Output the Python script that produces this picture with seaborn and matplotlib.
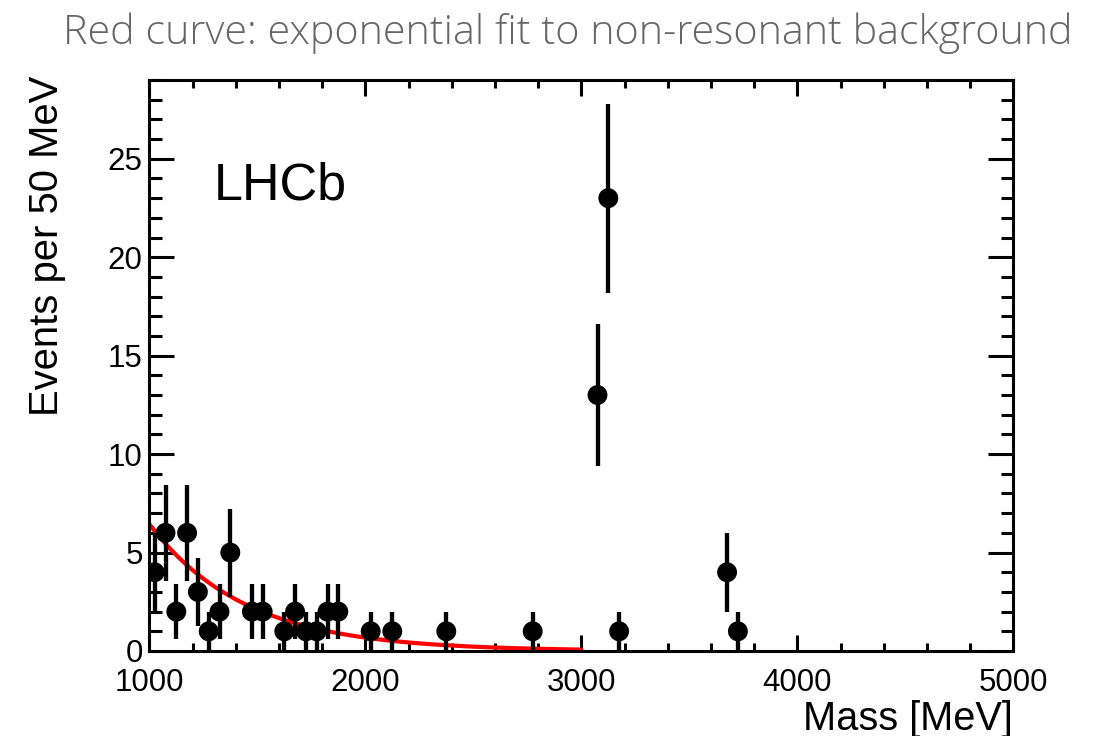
import numpy as np
import pandas as pd
import matplotlib
matplotlib.use("Agg")
import matplotlib.pyplot as plt
from matplotlib.ticker import MultipleLocator
import seaborn as sns

# Candidates per 50 MeV bin (bin centres in MeV)
mass = [1025, 1075, 1125, 1175, 1225, 1275, 1325, 1375, 1475, 1525,
        1625, 1675, 1725, 1775, 1825, 1875, 2025, 2125, 2375, 2775,
        3075, 3125, 3175, 3675, 3725]
events = [4, 6, 2, 6, 3, 1, 2, 5, 2, 2,
          1, 2, 1, 1, 2, 2, 1, 1, 1, 1,
          13, 23, 1, 4, 1]

# Exponential background fit: N(m) = norm * exp(slope * (m - 1000))
fit_norm = 6.45
fit_slope = -0.00225
fit_range = (1000, 3000)

title_text = "Red curve: exponential fit to non-resonant background"
experiment = "LHCb"
x_title = "Mass [MeV]"
y_title = "Events per 50 MeV"

sns.set_theme(style="ticks")
plt.rcParams["font.family"] = ["Liberation Sans", "DejaVu Sans"]

W, H = 1105, 736
fig = plt.figure(figsize=(W / 100, H / 100), dpi=100)
ax = fig.add_axes([149.3 / W, 1 - 651 / H, 864 / W, 571 / H])

df = pd.DataFrame({"mass": mass, "events": events})
df["err"] = np.sqrt(df["events"])

fit_x = np.linspace(fit_range[0], fit_range[1], 400)
fit_df = pd.DataFrame({"mass": fit_x,
                       "events": fit_norm * np.exp(fit_slope * (fit_x - 1000))})

sns.lineplot(data=fit_df, x="mass", y="events", color="#ff0000",
             linewidth=3.0, ax=ax, zorder=2)
ax.errorbar(df["mass"], df["events"], yerr=df["err"], fmt="none",
            ecolor="black", elinewidth=3.1, capsize=0, zorder=3)
sns.scatterplot(data=df, x="mass", y="events", s=205, color="black",
                edgecolor="none", linewidth=0, ax=ax, zorder=4)

ax.set_xlim(1000, 5000)
ax.set_ylim(0, 29.0)
ax.xaxis.set_major_locator(MultipleLocator(1000))
ax.xaxis.set_minor_locator(MultipleLocator(200))
ax.yaxis.set_major_locator(MultipleLocator(5))
ax.yaxis.set_minor_locator(MultipleLocator(1))

for sp in ax.spines.values():
    sp.set_linewidth(2.2)
    sp.set_color("black")

ax.tick_params(which="both", direction="in", top=True, right=True,
               width=2.2, color="black", labelsize=22.5, labelcolor="black")
ax.tick_params(axis="x", which="major", length=11.5, pad=12)
ax.tick_params(axis="x", which="minor", length=5.5)
ax.tick_params(axis="y", which="major", length=18, pad=4.8)
ax.tick_params(axis="y", which="minor", length=9)

ax.set_xlabel(x_title, fontsize=28.6, color="black")
ax.xaxis.set_label_coords(1.0, -0.085)
ax.xaxis.label.set_ha("right")
ax.xaxis.label.set_va("top")

ax.set_ylabel(y_title, fontsize=28.8, color="black")
ax.yaxis.set_label_coords(-0.096, 1.008)
ax.yaxis.label.set_ha("right")

ax.text(0.075, 0.79, experiment, transform=ax.transAxes, fontsize=37.5,
        va="baseline", ha="left", color="black")

fig.text(63 / W, 1 - 44 / H, title_text, fontsize=29.8, color="#666666",
         family=["Open Sans", "DejaVu Sans"], fontweight="light",
         va="baseline", ha="left")

fig.savefig("out.png", dpi=100, facecolor="white")
